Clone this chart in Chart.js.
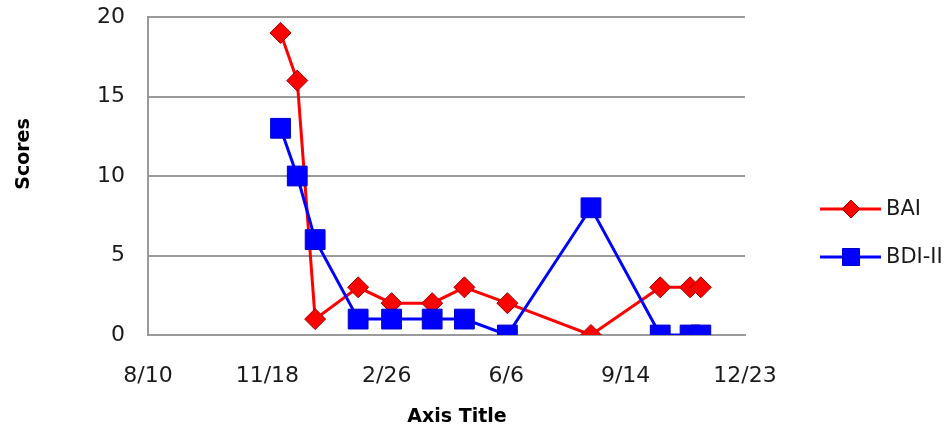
<!DOCTYPE html>
<html>
<head>
<meta charset="utf-8">
<script src="https://cdn.jsdelivr.net/npm/chart.js@4/dist/chart.umd.min.js"></script>
<style>
html,body{margin:0;padding:0;background:#fff;}
#wrap{width:949px;height:432px;position:relative;}
</style>
</head>
<body>
<div id="wrap"><canvas id="c" width="949" height="432"></canvas></div>
<script>
// Days since 8/10 (x axis is a date axis with 100-day major unit)
const dayOffsets = [111, 125, 140, 176, 204, 238, 265, 301, 371, 429, 454, 463];
const baiValues  = [19, 16, 1, 3, 2, 2, 3, 2, 0, 3, 3, 3];
const bdiValues  = [13, 10, 6, 1, 1, 1, 1, 0, 8, 0, 0, 0];
const xTickLabels = ['8/10', '11/18', '2/26', '6/6', '9/14', '12/23'];
const seriesNames = ['BAI', 'BDI-II'];
const xTitle = 'Axis Title';
const yTitle = 'Scores';

const toPoints = vals => vals.map((v, i) => ({x: dayOffsets[i], y: v}));

const FONT = '"DejaVu Sans", Verdana, sans-serif';

const titlesAndLegend = {
  id: 'titlesAndLegend',
  afterDraw(chart) {
    const ctx = chart.ctx;
    ctx.save();
    ctx.fillStyle = '#000';
    ctx.font = 'bold 19px ' + FONT;
    ctx.textAlign = 'center';
    ctx.textBaseline = 'middle';
    ctx.fillText(xTitle, 457, 417);
    ctx.save();
    ctx.translate(24, 154);
    ctx.rotate(-Math.PI / 2);
    ctx.fillText(yTitle, 0, 0);
    ctx.restore();

    // legend
    const items = [
      {y: 209, color: '#ff0000', border: '#990000', shape: 'diamond', label: seriesNames[0]},
      {y: 257, color: '#0000ff', border: '#0000cc', shape: 'square', label: seriesNames[1]}
    ];
    items.forEach(it => {
      ctx.strokeStyle = it.color;
      ctx.lineWidth = 3;
      ctx.beginPath();
      ctx.moveTo(820, it.y);
      ctx.lineTo(881, it.y);
      ctx.stroke();
      ctx.fillStyle = it.color;
      ctx.strokeStyle = it.border;
      ctx.lineWidth = 1;
      ctx.beginPath();
      if (it.shape === 'diamond') {
        const r = 9;
        ctx.moveTo(851 - r, it.y);
        ctx.lineTo(851, it.y - r);
        ctx.lineTo(851 + r, it.y);
        ctx.lineTo(851, it.y + r);
        ctx.closePath();
      } else {
        ctx.rect(851 - 8.5, it.y - 8.5, 17, 17);
      }
      ctx.fill();
      ctx.stroke();
      ctx.fillStyle = '#1a1a1a';
      ctx.font = '21px ' + FONT;
      ctx.textAlign = 'left';
      ctx.textBaseline = 'middle';
      ctx.fillText(it.label, 886, it.y + 1);
    });
    ctx.restore();
  }
};

new Chart(document.getElementById('c'), {
  type: 'line',
  data: {
    datasets: [
      {
        label: seriesNames[0],
        data: toPoints(baiValues),
        borderColor: '#ff0000',
        backgroundColor: '#ff0000',
        borderWidth: 3,
        pointStyle: 'rectRot',
        pointRadius: 10.5,
        pointBorderColor: '#990000',
        pointBorderWidth: 1,
        pointBackgroundColor: '#ff0000',
        tension: 0,
        order: 2
      },
      {
        label: seriesNames[1],
        data: toPoints(bdiValues),
        borderColor: '#0000ff',
        backgroundColor: '#0000ff',
        borderWidth: 3,
        pointStyle: 'rect',
        pointRadius: 14,
        pointBorderColor: '#0000cc',
        pointBorderWidth: 1,
        pointBackgroundColor: '#0000ff',
        tension: 0,
        order: 1
      }
    ]
  },
  options: {
    responsive: false,
    animation: false,
    layout: {padding: {top: 17, right: 204, left: 0, bottom: 0}},
    plugins: {legend: {display: false}, tooltip: {enabled: false}},
    scales: {
      x: {
        type: 'linear',
        min: 0,
        max: 500,
        afterFit: s => { s.height = 97; s.paddingLeft = 0; s.paddingRight = 0; },
        ticks: {
          stepSize: 100,
          padding: 28,
          color: '#1a1a1a',
          font: {family: FONT, size: 22},
          maxRotation: 0,
          callback: (v) => xTickLabels[Math.round(v / 100)]
        },
        grid: {display: false, drawTicks: false},
        border: {display: true, color: '#9a9a9a', width: 2}
      },
      y: {
        min: 0,
        max: 20,
        afterFit: s => { s.width = 148; s.paddingTop = 0; s.paddingBottom = 0; },
        ticks: {
          stepSize: 5,
          padding: 23,
          color: '#1a1a1a',
          font: {family: FONT, size: 22}
        },
        grid: {color: '#9a9a9a', lineWidth: 2, drawTicks: false},
        border: {display: true, color: '#9a9a9a', width: 2}
      }
    }
  },
  plugins: [titlesAndLegend]
});
</script>
</body>
</html>
